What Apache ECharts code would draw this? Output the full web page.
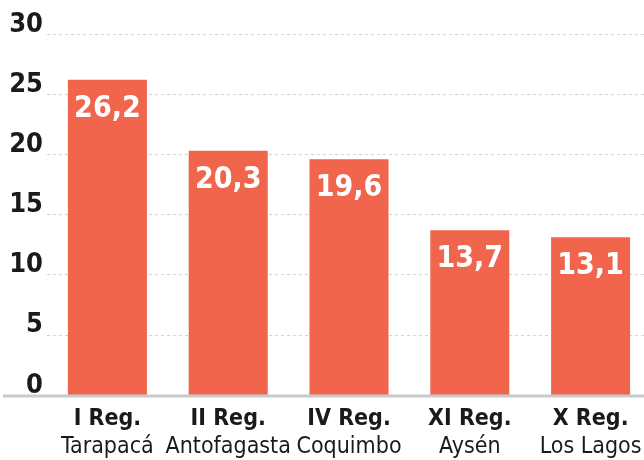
<!DOCTYPE html>
<html>
<head>
<meta charset="utf-8">
<script src="https://cdn.jsdelivr.net/npm/echarts@6/dist/echarts.min.js"></script>
<style>html,body{margin:0;padding:0;background:#fff}#c{width:644px;height:460px}</style>
</head>
<body>
<div id="c"></div>
<script>
const regions = ['I Reg.', 'II Reg.', 'IV Reg.', 'XI Reg.', 'X Reg.'];
const names = ['Tarapacá', 'Antofagasta', 'Coquimbo', 'Aysén', 'Los Lagos'];
const values = [26.2, 20.3, 19.6, 13.7, 13.1];
const yTicks = [0, 5, 10, 15, 20, 25, 30];

const FONT = '"DejaVu Sans Condensed", "DejaVu Sans", sans-serif';
const chart = echarts.init(document.getElementById('c'), null, {renderer: 'canvas'});
chart.setOption({
  animation: false,
  grid: {left: 47, top: 34, width: 604, height: 361, containLabel: false, outerBoundsMode: 'none'},
  xAxis: {
    type: 'category',
    data: regions.map((r, i) => r + '\n' + names[i]),
    axisLine: {show: false},
    axisTick: {show: false},
    axisLabel: {
      margin: 10,
      interval: 0,
      hideOverlap: false,
      formatter: function (v) {
        const p = v.split('\n');
        return '{b|' + p[0] + '}\n{n|' + p[1] + '}';
      },
      rich: {
        b: {fontFamily: FONT, fontWeight: 'bold', fontSize: 23, color: '#1a1a1a', lineHeight: 28},
        n: {fontFamily: FONT, fontWeight: 'normal', fontSize: 23, color: '#1a1a1a', lineHeight: 28}
      }
    }
  },
  yAxis: {
    type: 'value',
    min: yTicks[0],
    max: yTicks[yTicks.length - 1],
    interval: 5,
    axisLine: {show: false},
    axisTick: {show: false},
    splitLine: {lineStyle: {color: '#d4d4d4', type: [3, 3], width: 1}},
    axisLabel: {
      margin: 4,
      fontFamily: FONT,
      fontWeight: 'bold',
      fontSize: 27,
      color: '#1a1a1a',
      verticalAlign: 'bottom',
      lineHeight: 19
    }
  },
  series: [{
    type: 'bar',
    data: values,
    barWidth: 79,
    itemStyle: {color: '#F1654D'},
    label: {
      show: true,
      position: 'insideTop',
      distance: 14,
      fontFamily: FONT,
      fontWeight: 'bold',
      fontSize: 30,
      color: '#ffffff',
      formatter: p => String(p.value).replace('.', ',')
    }
  }],
  graphic: [{
    type: 'line',
    z: 100,
    shape: {x1: 3, y1: 396, x2: 644, y2: 396},
    style: {stroke: '#c8cbcc', lineWidth: 3}
  }]
});
</script>
</body>
</html>
